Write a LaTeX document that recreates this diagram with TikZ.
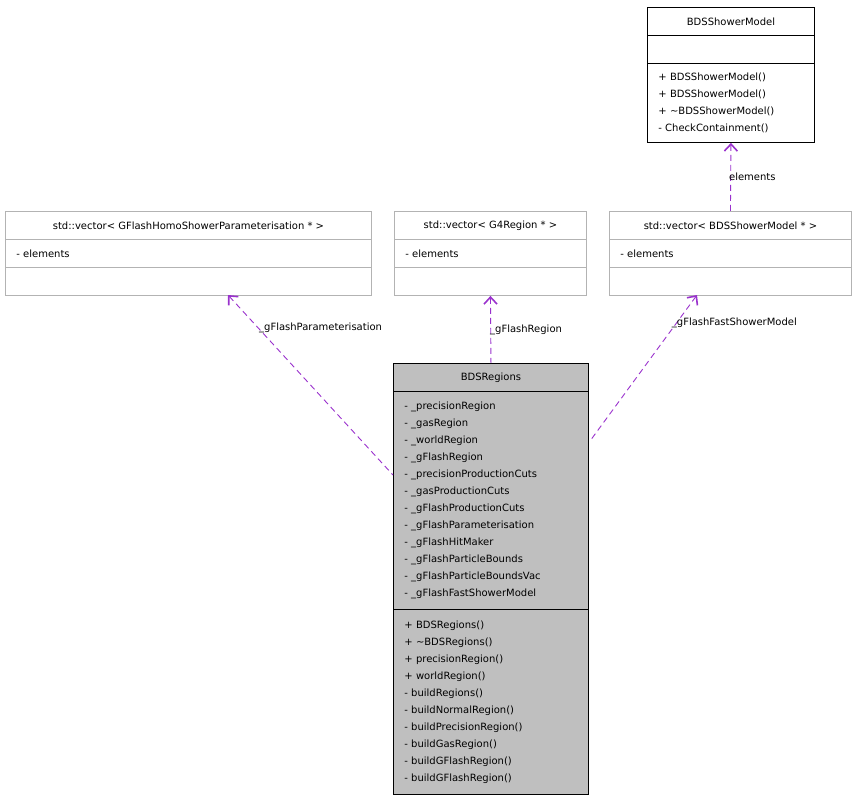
\documentclass[tikz,border=0pt]{standalone}
\usepackage{fontspec}
\setmainfont{DejaVu Sans}
\usetikzlibrary{arrows.meta,positioning}
\definecolor{edgepurple}{HTML}{9A32CD}
\definecolor{lightframe}{HTML}{B3B3B3}
\definecolor{classgray}{HTML}{BFBFBF}
\begin{document}
\begin{tikzpicture}[x=1pt,y=-1pt,line width=0.9pt,
    part/.style={draw=black,anchor=north west,inner sep=0pt,
        font=\fontsize{10}{17}\selectfont,align=left},
    cell/.style={part,minimum height=28pt},
    ghost/.style={draw=lightframe},
    myarrow/.style={draw=edgepurple,dash pattern=on 6pt off 4pt,
        {Straight Barb[length=7pt,width=13pt,line width=1.6pt]}-},
    lbl/.style={font=\fontsize{10}{12}\selectfont,anchor=west,inner sep=1pt}
    ]
    \useasboundingbox (0,0) rectangle (856,800);
    % BDSShowerModel
    \node[cell,minimum width=167pt] (sm) at (647,7) {\makebox[167pt]{BDSShowerModel}};
    \node[cell,minimum width=167pt] (smA) at (647,35) {};
    \node[part,minimum width=167pt,minimum height=79pt] (smB) at (647,63)
        {\hspace{10pt}\parbox{155pt}{+ BDSShowerModel()\\+ BDSShowerModel()\\+ \textasciitilde BDSShowerModel()\\- CheckContainment()}};
    % vectors
    \foreach \n/\x/\w/\t in {v1/5/366/{std::vector< GFlashHomoShowerParameterisation * >},
                             v2/394/192/{std::vector< G4Region * >},
                             v3/609/242/{std::vector< BDSShowerModel * >}} {
        \node[cell,ghost,minimum width=\w pt] (\n) at (\x,211) {\makebox[\w pt]{\t}};
        \node[cell,ghost,minimum width=\w pt] (\n A) at (\x,239) {\makebox[\w pt][l]{\hspace{11pt}- elements}};
        \node[cell,ghost,minimum width=\w pt] (\n B) at (\x,267) {};
    }
    % BDSRegions
    \node[cell,fill=classgray,minimum width=195pt] (rg) at (393,363) {\makebox[195pt]{BDSRegions}};
    \node[part,fill=classgray,minimum width=195pt,minimum height=218pt] (rgA) at (393,391)
        {\hspace{10pt}\parbox{183pt}{- \_precisionRegion\\- \_gasRegion\\- \_worldRegion\\- \_gFlashRegion\\
         - \_precisionProductionCuts\\- \_gasProductionCuts\\- \_gFlashProductionCuts\\
         - \_gFlashParameterisation\\- \_gFlashHitMaker\\- \_gFlashParticleBounds\\
         - \_gFlashParticleBoundsVac\\- \_gFlashFastShowerModel}};
    \node[part,fill=classgray,minimum width=195pt,minimum height=185pt] (rgB) at (393,609)
        {\hspace{10pt}\parbox{183pt}{+ BDSRegions()\\+ \textasciitilde BDSRegions()\\+ precisionRegion()\\
         + worldRegion()\\- buildRegions()\\- buildNormalRegion()\\- buildPrecisionRegion()\\
         - buildGasRegion()\\- buildGFlashRegion()\\- buildGFlashRegion()}};

    \coordinate (p1) at (228,295);
    \coordinate (p3) at (697,295);
    \coordinate (q1) at (393,475);
    \coordinate (q3) at (590,441);
    \draw[myarrow] (p1) -- node[lbl,pos=0.18,xshift=0pt] {\_gFlashParameterisation} (q1);
    \draw[myarrow] (v2B.south) -- node[lbl,xshift=-2pt] {\_gFlashRegion} (rg.north);
    \draw[myarrow] (p3) -- node[lbl,pos=0.22,xshift=-3pt,yshift=4pt] {\_gFlashFastShowerModel} (q3);
    \draw[myarrow] (smB.south) -- node[lbl,xshift=-3pt] {elements} (v3.north);
\end{tikzpicture}
\end{document}
